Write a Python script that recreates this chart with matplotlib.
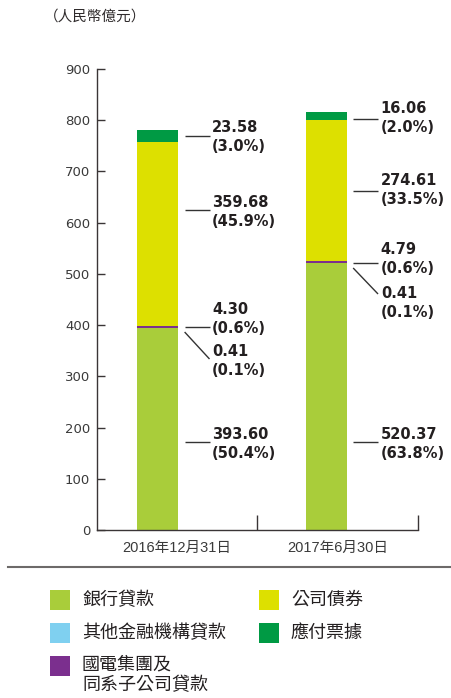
import matplotlib
matplotlib.use("Agg")
import matplotlib.pyplot as plt
from matplotlib.patches import Rectangle

plt.rcParams['font.family'] = ['Liberation Sans', 'Noto Sans CJK TC', 'DejaVu Sans']

# Data (RMB 100 million)
periods = ["2016年12月31日", "2017年6月30日"]
bank_loans = [393.60, 520.37]
other_fin_loans = [0.41, 0.41]
group_loans = [4.30, 4.79]
corporate_bonds = [359.68, 274.61]
notes_payable = [23.58, 16.06]

bank_pct = ["50.4%", "63.8%"]
other_pct = ["0.1%", "0.1%"]
group_pct = ["0.6%", "0.6%"]
bond_pct = ["45.9%", "33.5%"]
notes_pct = ["3.0%", "2.0%"]

series_names = ["銀行貸款", "其他金融機構貸款", "國電集團及\n同系子公司貸款", "公司債券", "應付票據"]
colors = {
    "bank": "#a9cd3a",
    "other": "#7fd0f0",
    "group": "#7b2f8e",
    "bond": "#dde000",
    "notes": "#009a44",
}

yticks = [0, 100, 200, 300, 400, 500, 600, 700, 800, 900]

# Layout
bar_x = [0.378, 1.428]
bar_w = 0.256
text_col = "#231f20"

W, H = 452, 698
AX_BOTTOM_PX, AX_TOP_PX = 530, 69
fig = plt.figure(figsize=(W / 100, H / 100), dpi=100)
ax = fig.add_axes([97 / W, (H - AX_BOTTOM_PX) / H, 321 / W, (AX_BOTTOM_PX - AX_TOP_PX) / H])

stack = [
    ("bank", bank_loans),
    ("other", other_fin_loans),
    ("group", group_loans),
    ("bond", corporate_bonds),
    ("notes", notes_payable),
]
bottoms = [0.0, 0.0]
for key, vals in stack:
    ax.bar(bar_x, vals, width=bar_w, bottom=bottoms, color=colors[key],
           linewidth=0, zorder=2)
    bottoms = [b + v for b, v in zip(bottoms, vals)]

ax.set_xlim(0, 2)
ax.set_ylim(0, 900)
ax.set_yticks(yticks)
ax.set_yticklabels([str(t) for t in yticks], family=['DejaVu Sans'])
ax.set_xticks([1, 2])
ax.set_xticklabels([])
ax.set_xticks([0.5, 1.5], minor=True)
ax.set_xticklabels(periods, minor=True)
ax.tick_params(axis='x', which='minor', length=0, pad=8, labelsize=10.5, labelcolor="#3a3a3a")
ax.tick_params(axis='x', which='major', direction='in', length=11, width=1, color="#3a3536")
ax.tick_params(axis='y', direction='in', length=6, width=1, color="#3a3536",
               labelsize=9.5, labelcolor="#3a3a3a", pad=5)
for s in ["top", "right"]:
    ax.spines[s].set_visible(False)
for s in ["left", "bottom"]:
    ax.spines[s].set_color("#3a3536")
    ax.spines[s].set_linewidth(1)


def px_y(p):
    """Vertical pixel position (from top) -> data units on the value axis."""
    return (AX_BOTTOM_PX - p) / (AX_BOTTOM_PX - AX_TOP_PX) * 900


# Value annotations with leader lines
def annotate(i, lead0, lead1, text_px, value, pct):
    xr = bar_x[i] + bar_w / 2
    x0 = xr + 0.04
    x1 = xr + 0.195
    ax.plot([x0, x1], [px_y(lead0), px_y(lead1)], color="#333333", lw=1,
            solid_capstyle='butt', clip_on=False, zorder=3)
    ax.text(x1 + 0.017, px_y(text_px), f"{value:.2f}\n({pct})", ha='left', va='center',
            fontsize=10.5, fontweight='bold', color=text_col, linespacing=1.35,
            family=['DejaVu Sans'])


# leader start, leader end, text centre (pixels from top)
label_pos = [
    {"bank": (442, 442, 444), "other": (332, 359, 361), "group": (327, 327, 319),
     "bond": (210, 210, 212), "notes": (136, 136, 137)},
    {"bank": (442, 442, 444), "other": (268, 294, 303), "group": (263, 263, 259),
     "bond": (191, 191, 190), "notes": (119, 119, 118)},
]
for i in range(2):
    lp = label_pos[i]
    annotate(i, *lp["bank"], bank_loans[i], bank_pct[i])
    annotate(i, *lp["other"], other_fin_loans[i], other_pct[i])
    annotate(i, *lp["group"], group_loans[i], group_pct[i])
    annotate(i, *lp["bond"], corporate_bonds[i], bond_pct[i])
    annotate(i, *lp["notes"], notes_payable[i], notes_pct[i])

# Unit caption
fig.text(44 / W, 1 - 17 / H, "（人民幣億元）", ha='left', va='center', fontsize=10.5,
         color="#2f2b2c", family=['Noto Sans CJK TC'])

# Separator rule
fig.add_artist(plt.Line2D([8 / W, 452 / W], [1 - 567 / H, 1 - 567 / H],
                          color="#6d6a69", lw=1.5, transform=fig.transFigure))

# Legend
legend_items = [
    ("bank", series_names[0], 50, 600),
    ("other", series_names[1], 50, 633),
    ("group", series_names[2], 50, 666),
    ("bond", series_names[3], 259, 600),
    ("notes", series_names[4], 259, 633),
]
for key, name, px, py in legend_items:
    fig.add_artist(Rectangle((px / W, 1 - (py + 10) / H), 20 / W, 20 / H,
                             color=colors[key], transform=fig.transFigure, lw=0))
    if '\n' in name:
        fig.text((px + 32) / W, 1 - (py - 11) / H, name, ha='left', va='top',
                 fontsize=13, color="#231f20", family=['Noto Sans CJK TC'],
                 linespacing=1.2)
    else:
        fig.text((px + 32) / W, 1 - py / H, name, ha='left', va='center',
                 fontsize=13, color="#231f20", family=['Noto Sans CJK TC'])

fig.savefig("out.png", dpi=100)
